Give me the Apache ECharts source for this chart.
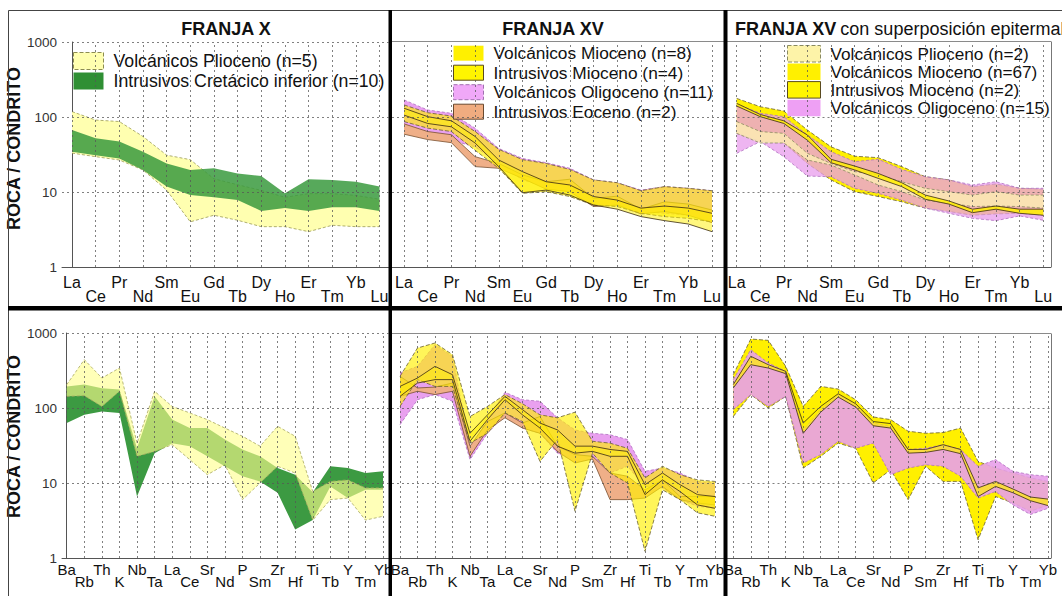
<!DOCTYPE html>
<html><head><meta charset="utf-8">
<script src="https://cdn.jsdelivr.net/npm/echarts@6/dist/echarts.min.js"></script>
<style>html,body{margin:0;padding:0;background:#fff}#c{width:1062px;height:596px}</style>
</head><body><div id="c"></div>
<script>
// ---------- categories & ticks ----------
const REE = ['La','Ce','Pr','Nd','Sm','Eu','Gd','Tb','Dy','Ho','Er','Tm','Yb','Lu'];
const SPIDER = ['Ba','Rb','Th','K','Nb','Ta','La','Ce','Sr','Nd','P','Sm','Zr','Hf','Ti','Tb','Y','Tm','Yb'];
const Y_TICKS = [1, 10, 100, 1000];
const TITLES = ['FRANJA X', 'FRANJA XV', 'FRANJA XV', 'con superposición epitermal'];
const Y_NAME = 'ROCA / CONDRITO';

// ---------- series names ----------
const N_PLIO5 = 'Volcánicos Plioceno (n=5)';
const N_CRET10 = 'Intrusivos Cretácico inferior (n=10)';
const N_VM8 = 'Volcánicos Mioceno (n=8)';
const N_IM4 = 'Intrusivos Mioceno (n=4)';
const N_OL11 = 'Volcánicos Oligoceno (n=11)';
const N_EO2 = 'Intrusivos Eoceno (n=2)';
const N_PLIO2 = 'Volcánicos Plioceno (n=2)';
const N_VM67 = 'Volcánicos Mioceno (n=67)';
const N_IM2 = 'Intrusivos Mioceno (n=2)';
const N_OL15 = 'Volcánicos Oligoceno (n=15)';

// ---------- panel 1 : FRANJA X, REE ----------
const p1_plioMax = [118, 91, 87, 55, 31, 27, 15, 12.5, 10.5, 8.5, 9.5, 9.5, 9, 8];
const p1_plioMin = [33, 29.6, 26.7, 19.7, 10.6, 4.0, 4.9, 4.2, 3.45, 3.45, 2.96, 3.6, 3.45, 3.45];
const p1_cretMax = [67, 52, 47, 34.5, 24, 19.7, 20.7, 17.7, 16.3, 9.6, 14.8, 14.5, 13.7, 11.8];
const p1_cretMin = [34.5, 31, 28, 19.7, 11.8, 9.1, 8.5, 7.8, 5.6, 6.1, 5.6, 6.25, 6.25, 5.6];

// ---------- panel 2 : FRANJA XV, REE ----------
const p2_olMax = [169, 124, 112, 71, 38, 28, 24.6, 20.7, 14.5, 13.3, 10.6, 11.8, 11.2, 10.4];
const p2_olMin = [71, 55, 49, 40, 24, 14.5, 11.8, 10.1, 7.4, 6.7, 5.5, 5.2, 4.9, 4.7];
const p2_eoMax = [81, 64, 58, 29.6, 24, 16.9, 13.7, 14.8, 8.2, 8.8, 5.9, 7.4, 6.9, 5.75];
const p2_eoMin = [59, 50, 45.5, 21.8, 20.7, 15.2, 10.9, 10.1, 6.4, 6.7, 5.1, 5.5, 4.9, 3.9];
const p2_vmMax = [145, 114, 103, 64, 37, 27, 24, 20, 14.5, 13.3, 10.4, 11.8, 11.2, 10.4];
const p2_vmMin = [87, 71, 64, 36, 20.7, 9.6, 10.1, 8.7, 6.7, 6.4, 5.2, 4.7, 4.45, 4.0];
const p2_imMax = [131, 101, 89, 55, 26.7, 18.7, 13.7, 12.4, 8.7, 7.8, 6.1, 6.5, 6.1, 5.2];
const p2_imMin = [106, 82, 74, 45, 21.8, 9.8, 10.6, 9.1, 6.7, 5.9, 4.7, 4.15, 3.74, 2.96];

// ---------- panel 3 : FRANJA XV epitermal, REE ----------
const p3_vmMax = [177, 137, 120, 67, 40, 30, 28.7, 21.8, 16, 14.5, 11.8, 12.8, 11.2, 10.9];
const p3_vmMin = [60.5, 47, 45, 24, 14.5, 10.1, 8.7, 7.4, 6.1, 5.5, 4.9, 5.1, 5.2, 4.9];
const p3_olMax = [149, 112, 101, 57.5, 34.5, 25.4, 27.3, 20, 16, 14.5, 12.4, 13.7, 11.2, 11.2];
const p3_olMin = [32.8, 47, 29.6, 16.3, 16, 11.2, 9.6, 7.8, 6.1, 5.2, 4.45, 4.15, 4.8, 4.2];
const p3_plMax = [87, 64, 60.5, 32.8, 24, 18.7, 16.9, 13.7, 11.2, 10.1, 9.1, 10.1, 9.1, 9.1];
const p3_plMin = [60.5, 45, 45, 26.7, 22.9, 16.9, 12.4, 10.1, 7.8, 7.1, 6.4, 6.5, 6.4, 6.1];
const p3_imMax = [152, 108, 89, 57.5, 27.3, 22.2, 17.7, 13.3, 9.1, 7.6, 5.9, 6.5, 5.9, 5.9];
const p3_imMin = [140, 101, 82, 49, 24.6, 19.7, 15.2, 11.8, 8.0, 6.9, 5.3, 5.9, 5.2, 4.9];

// ---------- panel 4 : FRANJA X, spider ----------
const p4_cretMax = [194, 205, 184, 176, 29, 143, 70, 54, 54, 38, 28, 22.7, 15.8, 12.9, 7.5, 16.7, 15.8, 13.6, 14.3];
const p4_cretMin = [63, 81, 90, 86, 6.6, 25, 34, 31, 22.7, 16.7, 12.3, 10.5, 7.4, 2.4, 3.2, 9, 6.3, 8.1, 8.1];
const p4_plioMax = [205, 441, 251, 341, 34, 167, 105, 86, 70, 54, 42, 31, 57, 42, 7.7, 10.5, 11, 8.6, 8.6];
const p4_plioMin = [143, 146, 105, 167, 22.7, 26.4, 32.4, 20.5, 12.9, 17.5, 6.0, 10, 16.7, 13.6, 3.2, 6.0, 6.3, 3.2, 3.6];

// ---------- panel 5 : FRANJA XV, spider ----------
const p5_olMax = [293, 359, 699, 489, 29, 70, 162, 129, 123, 74, 51, 46, 44, 38, 14.3, 15.8, 13.6, 10.5, 10];
const p5_olMin = [60, 129, 151, 123, 20.5, 46, 81, 54, 46, 25, 19.4, 22.7, 13.6, 16.7, 9, 8.6, 6.0, 4.9, 4.6];
const p5_eoMax = [264, 185, 190, 215, 31, 66, 86, 63, 77, 31, 23.9, 22.7, 13.6, 12.3, 8.1, 11, 6.6, 6.6, 6.6];
const p5_eoMin = [143, 167, 151, 167, 22.7, 51, 74, 54, 46, 26.4, 18.5, 20.9, 6.0, 6.0, 6.3, 9, 6, 5.4, 5.1];
const p5_vmMax = [264, 631, 736, 514, 77, 105, 151, 114, 81, 74, 88, 36, 34, 29, 11.7, 16.7, 12.9, 11, 10.5];
const p5_vmMin = [105, 239, 194, 194, 34, 46, 86, 66, 19.4, 38, 4.2, 25, 13.6, 10, 1.23, 8.1, 6, 4.0, 3.6];
const p5_imMax = [194, 251, 359, 278, 46, 81, 143, 95, 63, 51, 31, 31, 28, 26.4, 9.5, 13.6, 9.5, 7.0, 6.6];
const p5_imMin = [143, 215, 239, 239, 36, 70, 129, 81, 54, 31, 25, 26.4, 22.7, 22.7, 7.0, 11, 7.7, 5.1, 4.6];

// ---------- panel 6 : FRANJA XV epitermal, spider ----------
const p6_vmMax = [278, 832, 798, 359, 105, 194, 179, 129, 76, 70, 49, 46, 47, 54, 19.4, 15.8, 13.6, 11.7, 10.5];
const p6_vmMin = [77, 151, 100, 143, 15.8, 22.7, 34, 29, 10, 15, 6, 16.7, 10.5, 10.5, 1.75, 6.6, 5.4, 4.2, 5.1];
const p6_olMax = [239, 600, 398, 308, 51, 95, 151, 111, 63, 57, 28, 29, 32.4, 28, 16.7, 20.5, 14.3, 12.9, 12.3];
const p6_olMin = [95, 151, 105, 143, 18.5, 23.9, 36, 29, 34, 12.9, 15.8, 17.5, 16.7, 12.3, 6.3, 7.7, 5.1, 3.8, 4.6];
const p6_imMax = [205, 489, 378, 308, 63, 105, 155, 114, 66, 62, 28, 28, 32.4, 28, 8.6, 10.5, 8.3, 6.5, 6.1];
const p6_imMin = [185, 378, 341, 287, 46, 88, 140, 103, 58, 54, 25, 25.6, 28, 24.6, 6.6, 9, 7.4, 5.8, 5.0];

// ---------- styles ----------
const FONT = '"Liberation Sans",Arial,Helvetica,sans-serif';
const ST = {
  plio1: {fill:'#FFFFB0', op:1, edge:{color:'#9a9a55', width:0.8, dash:[3,2]}},
  cret1: {fill:'#3A9A3E', op:0.85, edge:null},
  cret4: {fill:'#3C9A42', op:1, edge:null},
  plio4: {fill:'#FFFF8C', op:0.62, edge:{color:'#a8a860', width:0.8, dash:[3,2]}},
  ol:    {fill:'#E9A0EF', op:1, edge:{color:'#b070c0', width:0.8, dash:[3,2]}},
  eo:    {fill:'#EFAF88', op:1, edge:{color:'#7a5030', width:0.8, dash:null}},
  vm:    {fill:'#FFF000', op:0.65, edge:{color:'#6a6030', width:0.8, dash:[4,2]}},
  im:    {fill:'#FFF000', op:0.5, edge:{color:'#3a2a10', width:0.8, dash:null}},
  vm3:   {fill:'#FFF000', op:1, edge:{color:'#6a6030', width:0.8, dash:[4,2]}},
  ol3:   {fill:'#E89CEC', op:0.75, edge:{color:'#b070c0', width:0.8, dash:[3,2]}},
  pl3:   {fill:'#FFF6B4', op:0.7, edge:{color:'#8a8a60', width:0.8, dash:[3,2]}},
  im3:   {fill:'#FFF000', op:0.85, edge:{color:'#3a2a10', width:0.8, dash:null}},
  ol6:   {fill:'#E8A0EA', op:0.9, edge:{color:'#b070c0', width:0.8, dash:[3,2]}},
  im6:   {fill:'#FFF000', op:0.7, edge:{color:'#3a2a10', width:0.8, dash:null}}
};

const LAYOUT = [
  {left:62, right:388.5, top:42, bottom:267, padL:0.423, padR:0.38, yAx:true, lh:14, margin:8.5, fs:16, shift:12},
  {left:392, right:723.5, top:42, bottom:267, padL:0.507, padR:0.485, lh:14, margin:8.5, fs:16},
  {left:727.5, right:1051, top:42, bottom:267, padL:0.39, padR:0.33, lh:14, margin:8.5, fs:16},
  {left:62, right:388.5, top:333, bottom:558, padL:0.27, padR:0.31, yAx:true, lh:11.5, margin:6, fs:15, shift:18},
  {left:392, right:723.5, top:333, bottom:558, padL:0.457, padR:0.486, lh:11.5, margin:6, fs:15},
  {left:727.5, right:1051, top:333, bottom:558, padL:0.33, padR:0.17, lh:11.5, margin:6, fs:15}
];

const PANELS = [
  {cats:REE, bands:[[N_PLIO5,p1_plioMin,p1_plioMax,'plio1'],[N_CRET10,p1_cretMin,p1_cretMax,'cret1']]},
  {cats:REE, bands:[[N_OL11,p2_olMin,p2_olMax,'ol'],[N_EO2,p2_eoMin,p2_eoMax,'eo'],[N_VM8,p2_vmMin,p2_vmMax,'vm'],[N_IM4,p2_imMin,p2_imMax,'im']]},
  {cats:REE, bands:[[N_VM67,p3_vmMin,p3_vmMax,'vm3'],[N_OL15,p3_olMin,p3_olMax,'ol3'],[N_PLIO2,p3_plMin,p3_plMax,'pl3'],[N_IM2,p3_imMin,p3_imMax,'im3']]},
  {cats:SPIDER, bands:[[N_CRET10,p4_cretMin,p4_cretMax,'cret4'],[N_PLIO5,p4_plioMin,p4_plioMax,'plio4']]},
  {cats:SPIDER, bands:[[N_OL11,p5_olMin,p5_olMax,'ol'],[N_EO2,p5_eoMin,p5_eoMax,'eo'],[N_VM8,p5_vmMin,p5_vmMax,'vm'],[N_IM4,p5_imMin,p5_imMax,'im']]},
  {cats:SPIDER, bands:[[N_VM67,p6_vmMin,p6_vmMax,'vm3'],[N_OL15,p6_olMin,p6_olMax,'ol6'],[N_IM2,p6_imMin,p6_imMax,'im6']]}
];

// band = polygon between min and max curves, placed through the axes' scales (api.coord)
function bandRenderer(mn, mx, st) {
  return function (params, api) {
    if (params.dataIndexInside !== 0) return null;
    const lo = mn.map((v, i) => api.coord([i, v]));
    const hi = mx.map((v, i) => api.coord([i, v]));
    const children = [{type:'polygon', shape:{points:hi.concat(lo.slice().reverse())},
      style:{fill:st.fill, opacity:st.op, stroke:null}}];
    if (st.edge) {
      [hi, lo].forEach(pts => children.push({type:'polyline', shape:{points:pts},
        style:{fill:null, stroke:st.edge.color, lineWidth:st.edge.width, lineDash:st.edge.dash || null}}));
    }
    return {type:'group', children};
  };
}

const grids = [], xAxes = [], yAxes = [], series = [];
PANELS.forEach((P, p) => {
  const L = LAYOUT[p], n = P.cats.length;
  grids.push({left:L.left, top:L.top, width:L.right-L.left, height:L.bottom-L.top, containLabel:false, outerBoundsMode:'none'});
  // two label rows (staggered): even-indexed names on the first row, odd-indexed on the second
  [0, 1].forEach(row => {
    const vals = P.cats.map((_, i) => i).filter(i => i % 2 === row);
    xAxes.push({
      type:'value', gridIndex:p, position:'bottom', offset:0, min:-L.padL, max:n-1+L.padR,
      axisLine:{show:row === 0, lineStyle:{color:'#555', width:1}}, axisTick:{show:false}, splitLine:{show:false},
      axisLabel:{customValues:vals, hideOverlap:false,
        margin:L.margin + row * L.lh, fontFamily:FONT, fontSize:L.fs, color:'#111', lineHeight:L.lh,
        formatter:(v) => P.cats[Math.round(v)]}
    });
  });
  yAxes.push({
    type:'log', logBase:10, min:Y_TICKS[0], max:Y_TICKS[Y_TICKS.length-1], gridIndex:p,
    axisLine:{show:!!L.yAx, lineStyle:{color:'#555', width:1}}, axisTick:{show:false}, splitLine:{show:false},
    axisLabel:{show:!!L.yAx, margin:5, fontFamily:FONT, fontSize:13.5, color:'#333', padding:[0,0,8,0],
      formatter:(v) => String(Math.round(v))},
    name: L.yAx ? Y_NAME : '', nameLocation:'middle', nameGap:20,
    nameTextStyle:{fontFamily:FONT, fontWeight:'bold', fontSize:18, color:'#111', padding:[0,0,0,L.shift||0]}
  });
  const xi = 2 * p;
  P.bands.forEach((b) => {
    const [name, mn, mx, sk] = b, st = ST[sk];
    series.push({type:'custom', name:name, xAxisIndex:xi, yAxisIndex:p, silent:true, z:2,
      itemStyle:{color:st.fill},
      data:mn.map((v, i) => [i, v, mx[i]]), encode:{x:0, y:[1, 2]},
      renderItem:bandRenderer(mn, mx, st)});
  });
  // dashed reference grid drawn above the bands
  const lines = P.cats.map((_, i) => ({xAxis:i})).concat([{yAxis:10}, {yAxis:100}]);
  if (L.yAx) lines.push({yAxis:1000});
  series.push({type:'line', name:'grid' + p, xAxisIndex:xi, yAxisIndex:p, data:[], silent:true, z:5,
    markLine:{silent:true, symbol:['none','none'], label:{show:false}, animation:false,
      lineStyle:{color:'#555', width:1, type:[2,3], opacity:0.75}, data:lines}});
});

const legTxt = (fs, lh) => ({fontFamily:FONT, fontSize:fs, color:'#111', lineHeight:lh, padding:[0,0,0,5]});
const legend = [
  {left:73, top:52, orient:'vertical', itemWidth:30, itemHeight:17, itemGap:2, icon:'rect', padding:0, selectedMode:false, textStyle:legTxt(17.7, 17),
   data:[{name:N_PLIO5, itemStyle:{color:'#FFFFB0', borderColor:'#8c8c50', borderWidth:1, borderType:'dashed'}},
         {name:N_CRET10, itemStyle:{color:'#2F8F34', borderWidth:0}}]},
  {left:453, top:44.7, orient:'vertical', itemWidth:30, itemHeight:15, itemGap:2.5, icon:'rect', padding:0, selectedMode:false, textStyle:legTxt(17.3, 15),
   data:[{name:N_VM8, itemStyle:{color:'#FFF000', borderWidth:0}},
         {name:N_IM4, itemStyle:{color:'#FFF500', borderColor:'#5a4a20', borderWidth:1}},
         {name:N_OL11, itemStyle:{color:'#F0A8F8', borderColor:'#a070b0', borderWidth:1, borderType:'dashed'}},
         {name:N_EO2, itemStyle:{color:'#F0AC80', borderColor:'#6a4a30', borderWidth:1}}]},
  {left:787, top:45, orient:'vertical', itemWidth:33, itemHeight:16.5, itemGap:0.8, icon:'rect', padding:0, selectedMode:false, textStyle:legTxt(17.2, 16.5),
   data:[{name:N_PLIO2, itemStyle:{color:'#FDF3A8', borderColor:'#8a8a60', borderWidth:1, borderType:'dashed'}},
         {name:N_VM67, itemStyle:{color:'#FFF000', borderWidth:0}},
         {name:N_IM2, itemStyle:{color:'#FFF500', borderColor:'#5a4a20', borderWidth:1}},
         {name:N_OL15, itemStyle:{color:'#EEA0F4', borderWidth:0}}]}
];

const graphic = [
  {type:'text', x:226, y:28.5, z:60, style:{text:TITLES[0], align:'center', verticalAlign:'middle', fontFamily:FONT, fontWeight:'bold', fontSize:18, fill:'#111'}},
  {type:'text', x:553, y:28.5, z:60, style:{text:TITLES[1], align:'center', verticalAlign:'middle', fontFamily:FONT, fontWeight:'bold', fontSize:18, fill:'#111'}},
  {type:'text', x:735, y:28.5, z:60, style:{text:'{b|' + TITLES[2] + '} {r|' + TITLES[3] + '}', align:'left', verticalAlign:'middle',
    rich:{b:{fontFamily:FONT, fontWeight:'bold', fontSize:18, fill:'#111'}, r:{fontFamily:FONT, fontSize:18, fill:'#111'}}}},
  {type:'line', z:90, shape:{x1:8.5, y1:10.5, x2:1062, y2:10.5}, style:{stroke:'#444', lineWidth:1}},
  {type:'line', z:90, shape:{x1:8.5, y1:10.5, x2:8.5, y2:596}, style:{stroke:'#444', lineWidth:1}},
  {type:'line', z:50, shape:{x1:392, y1:41.5, x2:1051, y2:41.5}, style:{stroke:'#8a8a8a', lineWidth:1}},
  {type:'line', z:50, shape:{x1:392, y1:333.5, x2:1051, y2:333.5}, style:{stroke:'#8a8a8a', lineWidth:1}},
  {type:'line', z:50, shape:{x1:1051.5, y1:41.5, x2:1051.5, y2:267}, style:{stroke:'#777', lineWidth:1}},
  {type:'line', z:50, shape:{x1:1051.5, y1:333.5, x2:1051.5, y2:558}, style:{stroke:'#777', lineWidth:1}},
  {type:'rect', z:95, shape:{x:388.5, y:10, width:3.5, height:586}, style:{fill:'#000'}},
  {type:'rect', z:95, shape:{x:723.5, y:10, width:4, height:586}, style:{fill:'#000'}},
  {type:'rect', z:95, shape:{x:8, y:306, width:1054, height:4.5}, style:{fill:'#000'}}
];

const chart = echarts.init(document.getElementById('c'), null, {renderer:'svg'});
chart.setOption({
  animation:false, backgroundColor:'#fff',
  grid:grids, xAxis:xAxes, yAxis:yAxes, series:series, legend:legend, graphic:graphic
});
</script></body></html>
